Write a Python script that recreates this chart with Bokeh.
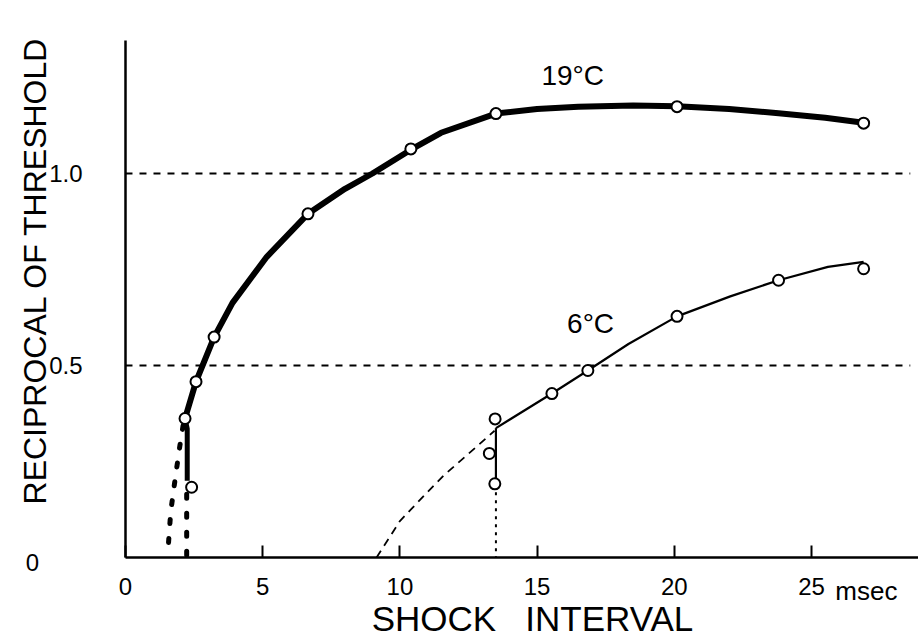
import math
from bokeh.plotting import figure
from bokeh.models import Range1d, Label, FixedTicker, LinearAxis
from bokeh.embed import file_html
from bokeh.resources import INLINE

FONT = "Liberation Sans"

# ---- 19 °C -------------------------------------------------------------
# measured points (shock interval in msec, reciprocal of threshold)
warm_x = [2.41, 2.17, 2.57, 3.23, 6.65, 10.4, 13.5, 20.1, 26.9]
warm_y = [0.183, 0.362, 0.458, 0.574, 0.895, 1.064, 1.156, 1.174, 1.131]
# fitted curve through the points
warm_curve_x = [2.17, 2.57, 3.23, 3.9, 5.15, 6.65, 8.0, 9.0, 10.4, 11.5,
                13.5, 15.0, 16.5, 18.5, 20.1, 22.0, 23.8, 25.5, 26.9]
warm_curve_y = [0.362, 0.458, 0.574, 0.663, 0.783, 0.895, 0.960, 1.0, 1.062, 1.106,
                1.156, 1.168, 1.174, 1.177, 1.175, 1.168, 1.157, 1.145, 1.132]
# steep drop below the lowest interval
warm_drop_x = [2.17, 2.25, 2.25]
warm_drop_y = [0.362, 0.335, 0.20]
warm_dot_right_x = [2.23, 2.23]
warm_dot_right_y = [0.165, 0.0]
warm_dot_left_x = [2.1, 1.98, 1.82, 1.65, 1.55]
warm_dot_left_y = [0.344, 0.29, 0.21, 0.12, 0.02]

# ---- 6 °C --------------------------------------------------------------
cold_x = [13.47, 13.26, 13.46, 15.54, 16.85, 20.1, 23.8, 26.9]
cold_y = [0.361, 0.271, 0.192, 0.427, 0.487, 0.628, 0.722, 0.752]
cold_curve_x = [13.5, 15.54, 16.85, 18.33, 20.1, 22.04, 23.8, 25.6, 26.9]
cold_curve_y = [0.337, 0.427, 0.487, 0.556, 0.628, 0.68, 0.722, 0.757, 0.77]
cold_drop_x = [13.5, 13.5]
cold_drop_y = [0.337, 0.20]
cold_dot_x = [13.5, 13.5]
cold_dot_y = [0.17, 0.0]
# extrapolation of the curve down to the axis
cold_extra_x = [9.15, 10.0, 11.0, 11.6, 12.5, 13.45]
cold_extra_y = [0.0, 0.095, 0.17, 0.214, 0.27, 0.33]

# horizontal reference levels
ref_levels = [0.5, 1.0]
ref_span = [0.0, 28.6]

x_ticks = [0, 5, 10, 15, 20, 25]
y_tick_labels = {0.0: "0", 0.5: "0.5", 1.0: "1.0"}

X_MAX = 28.9
Y_MAX = 1.346

# the frame fills the canvas; the axes sit at x = 0 and y = 0
p = figure(width=918, height=639, output_backend="svg", toolbar_location=None,
           x_range=Range1d(-4.555, X_MAX), y_range=Range1d(-0.2135, 1.4505),
           x_axis_type=None, y_axis_type=None,
           min_border_left=0, min_border_right=0,
           min_border_top=0, min_border_bottom=0)
p.outline_line_color = None
p.background_fill_color = "white"
p.border_fill_color = "white"

xaxis = LinearAxis(fixed_location=0, bounds=(0, X_MAX),
                   ticker=FixedTicker(ticks=x_ticks))
xaxis.axis_line_width = 2.5
xaxis.axis_line_color = "black"
xaxis.major_tick_in = 12
xaxis.major_tick_out = 0
xaxis.major_tick_line_width = 2
xaxis.major_tick_line_color = "black"
xaxis.minor_tick_line_color = None
xaxis.major_label_text_font = FONT
xaxis.major_label_text_font_size = "24px"
xaxis.major_label_text_color = "black"
xaxis.major_label_standoff = 20
p.add_layout(xaxis, "below")

yaxis = LinearAxis(fixed_location=0, bounds=(0, Y_MAX),
                   ticker=FixedTicker(ticks=[]))
yaxis.axis_line_width = 2.5
yaxis.axis_line_color = "black"
yaxis.major_tick_line_color = None
yaxis.minor_tick_line_color = None
yaxis.major_label_text_font_size = "0px"
p.add_layout(yaxis, "left")

# dashed reference levels
for lvl in ref_levels:
    p.line(ref_span, [lvl, lvl], line_color="black", line_width=1.8, line_dash="7 7")

# 19 °C curve, drop and dotted continuations
p.line(warm_curve_x, warm_curve_y, line_color="black", line_width=6, line_join="round")
p.line(warm_drop_x, warm_drop_y, line_color="black", line_width=5, line_join="round")
p.line(warm_dot_right_x, warm_dot_right_y, line_color="black", line_width=5,
       line_dash="4 15", line_cap="round")
p.line(warm_dot_left_x, warm_dot_left_y, line_color="black", line_width=5,
       line_dash="4 15", line_cap="round")

# 6 °C curve, drop, dotted and dashed continuations
p.line(cold_curve_x, cold_curve_y, line_color="black", line_width=2.2)
p.line(cold_drop_x, cold_drop_y, line_color="black", line_width=2.2)
p.line(cold_dot_x, cold_dot_y, line_color="black", line_width=2, line_dash="3 5")
p.line(cold_extra_x, cold_extra_y, line_color="black", line_width=1.8, line_dash="8 6")

# open circles for measurements
p.scatter(warm_x, warm_y, size=11, fill_color="white", line_color="black", line_width=2)
p.scatter(cold_x, cold_y, size=11, fill_color="white", line_color="black", line_width=2)


def add_text(x, y, text, size, align="center", angle=0.0):
    p.add_layout(Label(x=x, y=y, text=text, text_font=FONT, text_font_size=size,
                       text_color="black", text_align=align, text_baseline="middle",
                       angle=angle))


# curve labels
add_text(16.3, 1.255, "19°C", "28px")
add_text(16.95, 0.609, "6°C", "28px")

# y tick labels
for val, txt in y_tick_labels.items():
    if txt == "0":
        add_text(-3.39, -0.012, txt, "24px")
    else:
        add_text(-1.567, val, txt, "24px", align="right")

# unit after the last tick label
add_text(25.87, -0.086, "msec", "26px", align="left")

# axis titles
add_text(14.83, -0.159, "SHOCK\u00a0\u00a0\u00a0INTERVAL", "35px")
add_text(-3.3, 0.747, "RECIPROCAL OF THRESHOLD", "32px", angle=math.pi / 2)

open("out.html", "w").write(file_html(p, INLINE))
